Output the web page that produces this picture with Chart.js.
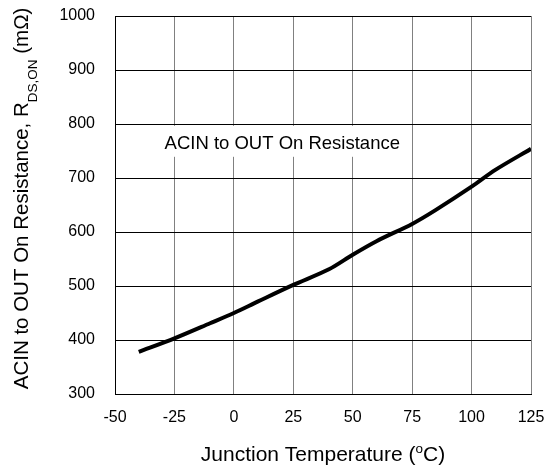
<!DOCTYPE html>
<html>
<head>
<meta charset="utf-8">
<script src="https://cdn.jsdelivr.net/npm/chart.js@4.4.1/dist/chart.umd.min.js"></script>
<style>
  html, body { margin: 0; padding: 0; background: #fff; }
  #wrap { width: 553px; height: 470px; }
</style>
</head>
<body>
<div id="wrap"><canvas id="rdsChart"></canvas></div>
<script>
// junction temperature (°C) and on resistance (mOhm)
const temps = [-40, -25, -10, 0, 10, 25, 40, 50, 60, 75, 85, 100, 110, 125];
const rdson = [378, 403, 431, 450, 471, 502, 531, 558, 583, 615, 641, 684, 715, 754];
const xTicks = [-50, -25, 0, 25, 50, 75, 100, 125];
const yTicks = [300, 400, 500, 600, 700, 800, 900, 1000];
const seriesName = "ACIN to OUT On Resistance";

const FONT = "'Liberation Sans', Arial, sans-serif";

// titles + in-plot label drawn by hand (need sub/superscripts)
const textPlugin = {
  id: 'texts',
  afterDraw(chart) {
    const ctx = chart.ctx;
    const area = chart.chartArea;
    ctx.save();
    ctx.fillStyle = '#000';
    ctx.textBaseline = 'alphabetic';

    // label box in the plot
    ctx.font = '18.5px ' + FONT;
    const lx = chart.scales.x.getPixelForValue(-30);
    const ly = chart.scales.y.getPixelForValue(780);
    const tw = ctx.measureText(seriesName).width;
    ctx.fillStyle = '#fff';
    ctx.fillRect(lx - 4, ly - 9, tw + 14, 31);
    ctx.fillStyle = '#000';
    ctx.fillText(seriesName, lx + 2, ly + 14);

    // x title
    const big = '21px ' + FONT, small = '13.5px ' + FONT;
    const parts = [['Junction Temperature (', big, 0], ['o', small, -8], ['C)', big, 0]];
    let w = 0;
    parts.forEach(p => { ctx.font = p[1]; w += ctx.measureText(p[0]).width; });
    let x = (area.left + area.right) / 2 - w / 2;
    parts.forEach(p => {
      ctx.font = p[1];
      ctx.fillText(p[0], x, 461 + p[2]);
      x += ctx.measureText(p[0]).width;
    });

    // y title, rotated
    const yparts = [['ACIN to OUT On Resistance, R', '20.5px ' + FONT, 0],
                    ['DS,ON', '13.5px ' + FONT, 9],
                    [' (m\u03A9)', '20.5px ' + FONT, 0]];
    w = 0;
    yparts.forEach(p => { ctx.font = p[1]; w += ctx.measureText(p[0]).width; });
    ctx.translate(28, 198.5);
    ctx.rotate(-Math.PI / 2);
    x = -w / 2;
    yparts.forEach(p => {
      ctx.font = p[1];
      ctx.fillText(p[0], x, p[2]);
      x += ctx.measureText(p[0]).width;
    });
    ctx.restore();
  }
};

new Chart(document.getElementById('rdsChart'), {
  type: 'line',
  data: {
    datasets: [{
      label: seriesName,
      data: temps.map((t, i) => ({ x: t, y: rdson[i] })),
      borderColor: '#000',
      borderWidth: 4,
      pointRadius: 0,
      tension: 0.3,
      fill: false
    }]
  },
  options: {
    responsive: true,
    maintainAspectRatio: false,
    animation: false,
    layout: { padding: { left: 45, top: 16, right: 22, bottom: 0 } },
    plugins: {
      legend: { display: false },
      tooltip: { enabled: false }
    },
    scales: {
      x: {
        type: 'linear',
        min: -50,
        max: 125,
        afterBuildTicks: s => { s.ticks = xTicks.map(v => ({ value: v })); },
        afterFit: s => { s.height = 76; s.paddingLeft = 0; s.paddingRight = 0; },
        ticks: { color: '#000', padding: 14, font: { family: FONT, size: 16 }, callback: v => String(v) },
        grid: { color: '#808080', lineWidth: 1, drawTicks: false },
        border: { color: '#000', width: 1 }
      },
      y: {
        min: 300,
        max: 1000,
        afterBuildTicks: s => { s.ticks = yTicks.map(v => ({ value: v })); },
        afterFit: s => { s.width = 70; s.paddingTop = 0; s.paddingBottom = 0; },
        ticks: { color: '#000', padding: 20, font: { family: FONT, size: 16 }, callback: v => String(v) },
        grid: { color: '#000', lineWidth: 1, drawTicks: false },
        border: { color: '#000', width: 1 }
      }
    }
  },
  plugins: [textPlugin]
});
</script>
</body>
</html>
